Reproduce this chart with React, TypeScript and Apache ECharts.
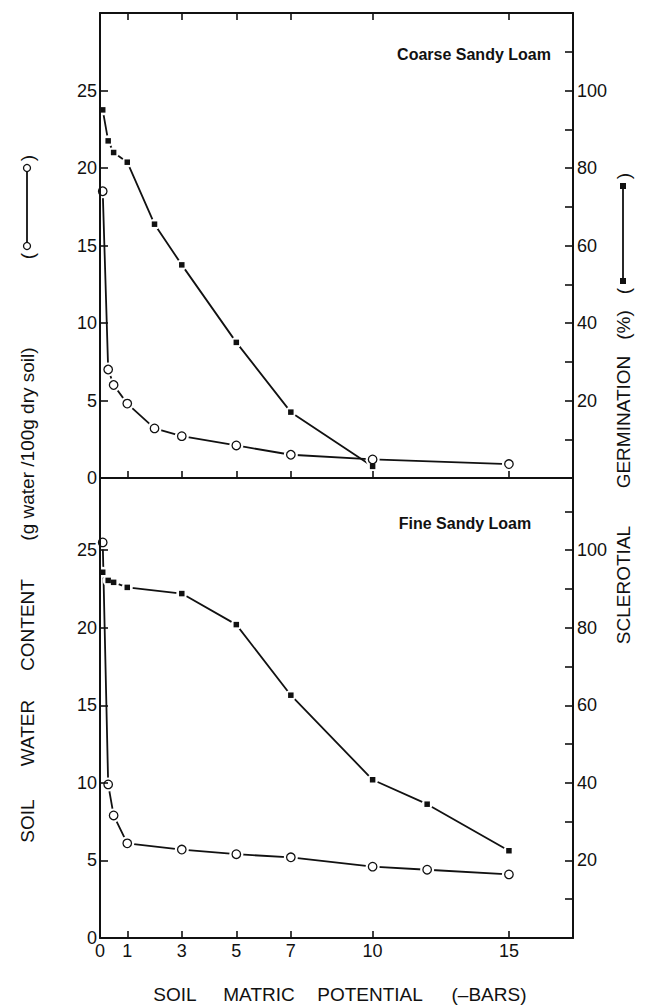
import React, { useEffect, useRef } from "react";
import * as echarts from "echarts";

// ---- Data ----
const topWaterX = [0.1, 0.3, 0.5, 1, 2, 3, 5, 7, 10, 15];
const topWater = [18.5, 7.0, 6.0, 4.8, 3.2, 2.7, 2.1, 1.5, 1.2, 0.9];
const topGermX = [0.1, 0.3, 0.5, 1, 2, 3, 5, 7, 10];
const topGerm = [95, 87, 84, 81.5, 65.5, 55, 35, 17, 3];

const botX = [0.1, 0.3, 0.5, 1, 3, 5, 7, 10, 12, 15];
const botWater = [25.5, 9.9, 7.9, 6.1, 5.7, 5.4, 5.2, 4.6, 4.4, 4.1];
const botGerm = [94.3, 92.2, 91.7, 90.4, 88.8, 80.8, 62.6, 40.8, 34.5, 22.5];

const xTickValues = [1, 3, 5, 7, 10, 15];
const xLabelValues = [0, 1, 3, 5, 7, 10, 15];
const leftTickValues = [5, 10, 15, 20, 25];
const leftLabelValues = [0, 5, 10, 15, 20, 25];
const rightTickValues = [10, 20, 30, 40, 50, 60, 70, 80, 90, 100, 110];
const rightLabelValues = [20, 40, 60, 80, 100];

const panelTitles = ["Coarse Sandy Loam", "Fine Sandy Loam"];
const xTitleWords = ["SOIL", "MATRIC", "POTENTIAL", "(–BARS)"];
const leftTitleWords = ["SOIL", "WATER", "CONTENT", "(g water /100g dry soil)"];
const rightTitleWords = ["SCLEROTIAL", "GERMINATION", "(%)"];

const FONT = "'Liberation Sans', Arial, Helvetica, sans-serif";
const BLACK = "#111";

export default function App() {
  const ref = useRef<HTMLDivElement>(null);

  useEffect(() => {
    if (!ref.current) return;
    const chart = echarts.init(ref.current, null, { renderer: "svg" });

    const xMax = 17.35;
    const GL = 100;
    const GR = 657 - 573;

    const lineW = 2;
    const mkX = (grid: number, position: "bottom" | "top", labels: boolean) => ({
      type: "value",
      gridIndex: grid,
      position,
      min: 0,
      max: xMax,
      z: 5,
      axisLine: { show: true, onZero: false, lineStyle: { color: BLACK, width: lineW } },
      axisTick: {
        show: true,
        inside: true,
        length: 7,
        customValues: xTickValues,
        lineStyle: { color: BLACK, width: 1.6 },
      },
      axisLabel: labels
        ? {
            show: true,
            customValues: xLabelValues,
            margin: 4,
            color: BLACK,
            fontSize: 18,
            fontFamily: FONT,
          }
        : { show: false },
      splitLine: { show: false },
    });

    const mkY = (
      grid: number,
      position: "left" | "right",
      max: number,
      ticks: number[],
      labels: number[]
    ) => ({
      type: "value",
      gridIndex: grid,
      position,
      min: 0,
      max,
      z: 5,
      axisLine: { show: true, onZero: false, lineStyle: { color: BLACK, width: lineW } },
      axisTick: {
        show: true,
        inside: true,
        length: 8,
        customValues: ticks,
        lineStyle: { color: BLACK, width: 1.6 },
      },
      axisLabel: {
        show: true,
        customValues: labels,
        margin: position === "left" ? 3 : 4,
        color: BLACK,
        fontSize: 18,
        fontFamily: FONT,
      },
      splitLine: { show: false },
    });

    const pairs = (xs: number[], ys: number[]) => xs.map((x, i) => [x, ys[i]]);

    const makeSeries = (
      xs: number[],
      ys: number[],
      xIdx: number,
      yIdx: number,
      kind: "circle" | "square"
    ) => {
      const data = pairs(xs, ys);
      return [
        {
          type: "line",
          data,
          xAxisIndex: xIdx,
          yAxisIndex: yIdx,
          symbol: "none",
          showSymbol: false,
          silent: true,
          z: 2,
          lineStyle: { color: BLACK, width: 1.8 },
        },
        {
          type: "scatter",
          data,
          xAxisIndex: xIdx,
          yAxisIndex: yIdx,
          symbol: "circle",
          symbolSize: kind === "circle" ? 14 : 11,
          silent: true,
          z: 3,
          itemStyle: { color: "#fff", opacity: 1 },
        },
        {
          type: "scatter",
          data,
          xAxisIndex: xIdx,
          yAxisIndex: yIdx,
          symbol: kind === "circle" ? "circle" : "rect",
          symbolSize: kind === "circle" ? 8.5 : 5.5,
          silent: true,
          z: 4,
          itemStyle:
            kind === "circle"
              ? { color: "#fff", borderColor: BLACK, borderWidth: 1.3, opacity: 1 }
              : { color: BLACK, opacity: 1 },
        },
      ];
    };

    const TS = 19;
    const txt = (
      text: string,
      x: number,
      y: number,
      opts: { rotate?: boolean; bold?: boolean; size?: number; align?: string } = {}
    ) => ({
      type: "text",
      x,
      y,
      rotation: opts.rotate ? Math.PI / 2 : 0,
      z: 10,
      style: {
        text,
        fill: BLACK,
        font: `${opts.bold ? "bold " : ""}${opts.size || TS}px ${FONT}`,
        textAlign: opts.align || "center",
        textVerticalAlign: "middle",
      },
    });

    // vertical legend glyph: "(" marker —— marker ")" reading bottom-to-top
    const glyph = (cx: number, yBottom: number, yTop: number, kind: "circle" | "square") => {
      const els: any[] = [];
      els.push(txt("(", cx, yBottom + 10, { rotate: true }));
      els.push(txt(")", cx, yTop - 10, { rotate: true }));
      els.push({
        type: "line",
        z: 10,
        shape: { x1: cx, y1: yBottom - 3, x2: cx, y2: yTop + 3 },
        style: { stroke: BLACK, lineWidth: 1.8 },
      });
      if (kind === "circle") {
        [yBottom, yTop].forEach((y) =>
          els.push({
            type: "circle",
            z: 11,
            shape: { cx, cy: y, r: 3.5 },
            style: { fill: "#fff", stroke: BLACK, lineWidth: 1.3 },
          })
        );
      } else {
        [yBottom, yTop].forEach((y) =>
          els.push({
            type: "rect",
            z: 11,
            shape: { x: cx - 3, y: y - 3, width: 6, height: 6 },
            style: { fill: BLACK },
          })
        );
      }
      return els;
    };

    const leftX = 27;
    const rightX = 623;

    const graphics: any[] = [
      txt(panelTitles[0], 474, 54, { bold: true, size: 16 }),
      txt(panelTitles[1], 465, 523, { bold: true, size: 16 }),
      // x title
      txt(xTitleWords[0], 175, 994),
      txt(xTitleWords[1], 259, 994),
      txt(xTitleWords[2], 370, 994),
      txt(xTitleWords[3], 489, 994),
      // left title (reading bottom to top)
      txt(leftTitleWords[0], leftX, 821, { rotate: true }),
      txt(leftTitleWords[1], leftX, 733, { rotate: true }),
      txt(leftTitleWords[2], leftX, 625, { rotate: true }),
      txt(leftTitleWords[3], leftX, 444, { rotate: true }),
      ...glyph(leftX, 246, 168, "circle"),
      // right title
      txt(rightTitleWords[0], rightX, 585, { rotate: true }),
      txt(rightTitleWords[1], rightX, 422, { rotate: true }),
      txt(rightTitleWords[2], rightX, 325, { rotate: true }),
      ...glyph(rightX, 281, 186, "square"),
    ];

    const option: any = {
      animation: false,
      backgroundColor: "#fff",
      grid: [
        { left: GL, right: GR, top: 13, height: 465 },
        { left: GL, right: GR, top: 478, height: 460 },
      ],
      xAxis: [mkX(0, "bottom", false), mkX(0, "top", false), mkX(1, "bottom", true)],
      yAxis: [
        mkY(0, "left", 30, leftTickValues, leftLabelValues),
        mkY(0, "right", 120, rightTickValues, rightLabelValues),
        mkY(1, "left", 29.65, leftTickValues, leftLabelValues),
        mkY(1, "right", 118.6, rightTickValues, rightLabelValues),
      ],
      series: [
        ...makeSeries(topWaterX, topWater, 0, 0, "circle"),
        ...makeSeries(topGermX, topGerm, 0, 1, "square"),
        ...makeSeries(botX, botWater, 2, 2, "circle"),
        ...makeSeries(botX, botGerm, 2, 3, "square"),
      ],
      graphic: graphics,
    };

    chart.setOption(option);
    return () => chart.dispose();
  }, []);

  return (
    <div
      ref={ref}
      style={{ width: 657, height: 1005, position: "absolute", left: 0, top: 0, background: "#fff" }}
    />
  );
}
